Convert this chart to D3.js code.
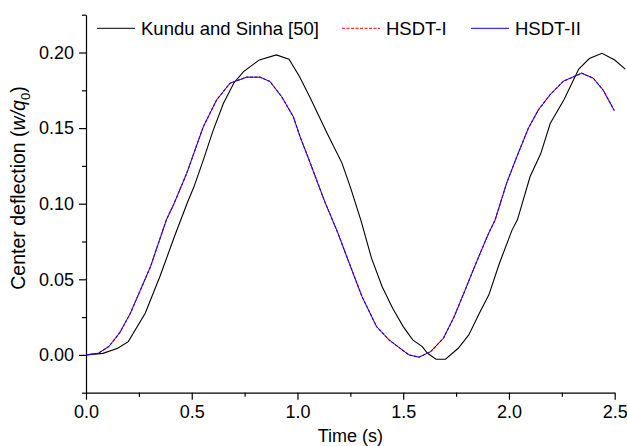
<!DOCTYPE html>
<html>
<head>
<meta charset="utf-8">
<script src="https://cdn.jsdelivr.net/npm/d3@7"></script>
<style>
	body{margin:0;background:#fff;}
	svg text{font-family:"Liberation Sans",Arial,sans-serif;fill:#000;}
</style>
</head>
<body>
<div id="chart"></div>
<script>
// Kundu and Sinha [50]
const kunduTime = [0,0.08,0.15,0.20,0.28,0.35,0.42,0.48,0.51,0.555,0.60,0.65,0.70,0.745,0.82,0.90,0.96,1.01,1.06,1.14,1.21,1.25,1.30,1.35,1.40,1.45,1.50,1.545,1.59,1.615,1.655,1.70,1.76,1.81,1.86,1.905,1.955,2.015,2.04,2.10,2.15,2.195,2.26,2.33,2.38,2.44,2.50,2.55];
const kunduDefl = [0,0.001,0.0044,0.0088,0.0276,0.052,0.079,0.101,0.111,0.129,0.148,0.1664,0.180,0.1874,0.1951,0.1984,0.1955,0.184,0.170,0.1466,0.127,0.111,0.089,0.064,0.0452,0.0309,0.0187,0.0099,0.0055,0.0011,-0.0029,-0.0029,0.0044,0.0132,0.0276,0.0397,0.0606,0.0827,0.0893,0.118,0.133,0.153,0.1687,0.189,0.196,0.1995,0.195,0.189];

// HSDT-I and HSDT-II lie on top of each other
const hsdtTime = [0,0.057,0.108,0.16,0.21,0.305,0.38,0.416,0.476,0.555,0.618,0.681,0.76,0.823,0.87,0.925,0.98,1.012,1.06,1.13,1.19,1.245,1.305,1.374,1.433,1.527,1.575,1.63,1.69,1.741,1.793,1.844,1.904,1.934,1.989,2.037,2.092,2.139,2.194,2.257,2.344,2.399,2.446,2.498];
const hsdt1Defl = [0,0.001,0.0055,0.0148,0.0276,0.0584,0.0893,0.100,0.120,0.151,0.1687,0.1797,0.1837,0.1837,0.1808,0.1708,0.1576,0.1444,0.127,0.101,0.081,0.0606,0.0386,0.0187,0.0099,0.0,-0.0015,0.0022,0.011,0.0253,0.043,0.0606,0.0805,0.089,0.1136,0.131,0.150,0.162,0.172,0.181,0.1863,0.183,0.175,0.1616];
const hsdt2Defl = [0,0.001,0.0055,0.0148,0.0276,0.0584,0.0893,0.100,0.120,0.151,0.1687,0.1797,0.1837,0.1837,0.1808,0.1708,0.1576,0.1444,0.127,0.101,0.081,0.0606,0.0386,0.0187,0.0099,0.0,-0.0015,0.0022,0.011,0.0253,0.043,0.0606,0.0805,0.089,0.1136,0.131,0.150,0.162,0.172,0.181,0.1863,0.183,0.175,0.1616];

const xTicks = [0,0.5,1.0,1.5,2.0,2.5];
const yTicks = [0,0.05,0.10,0.15,0.20];
const legendNames = ["Kundu and Sinha [50]","HSDT-I","HSDT-II"];

const W = 627, H = 446;
const margin = {top:14.7, right:12.3, bottom:53.3, left:86};

const svg = d3.select("#chart").append("svg")
	.attr("width",W)
	.attr("height",H);

const x = d3.scaleLinear()
	.domain([0,2.5])
	.range([margin.left, W-margin.right]);

const y = d3.scaleLinear()
	.domain([-0.025,0.225])
	.range([H-margin.bottom, margin.top]);

// axes: major ticks with labels, then minor ticks
const xAxis = svg.append("g")
	.attr("transform",`translate(0,${H-margin.bottom})`)
	.call(d3.axisBottom(x).tickValues(xTicks).tickFormat(d3.format(".1f")).tickSize(7).tickSizeOuter(0).tickPadding(6));
svg.append("g")
	.attr("transform",`translate(0,${H-margin.bottom})`)
	.call(d3.axisBottom(x).tickValues(d3.range(0.25,2.5,0.5)).tickFormat("").tickSize(4).tickSizeOuter(0))
	.select(".domain").remove();

const yAxis = svg.append("g")
	.attr("transform",`translate(${margin.left},0)`)
	.call(d3.axisLeft(y).tickValues(yTicks).tickFormat(d3.format(".2f")).tickSize(7).tickSizeOuter(0).tickPadding(5));
svg.append("g")
	.attr("transform",`translate(${margin.left},0)`)
	.call(d3.axisLeft(y).tickValues([-0.025,0.025,0.075,0.125,0.175,0.225]).tickFormat("").tickSize(4).tickSizeOuter(0))
	.select(".domain").remove();

svg.selectAll(".tick line, .domain")
	.attr("stroke","#000")
	.attr("stroke-width",1.2);

xAxis.selectAll("text")
	.style("font-size","18px")
	.attr("fill","#000");
yAxis.selectAll("text")
	.style("font-size","18px")
	.attr("fill","#000");

// axis titles
svg.append("text")
	.attr("x",(x.range()[0]+x.range()[1])/2)
	.attr("y",442)
	.attr("text-anchor","middle")
	.style("font-size","18px")
	.text("Time (s)");

const yTitle = svg.append("text")
	.attr("transform","translate(25,188) rotate(-90)")
	.attr("text-anchor","middle")
	.style("font-size","19.5px");
yTitle.append("tspan").text("Center deflection (");
yTitle.append("tspan").style("font-style","italic").text("w/q");
yTitle.append("tspan").attr("dy",5).style("font-size","13px").text("0");
yTitle.append("tspan").attr("dy",-5).text(")");

// curves
const series = [
	{name:legendNames[0], t:kunduTime, v:kunduDefl, color:"#000", dash:null, width:1.1},
	{name:legendNames[1], t:hsdtTime, v:hsdt1Defl, color:"#ff0000", dash:"3,1.5", width:1.3},
	{name:legendNames[2], t:hsdtTime, v:hsdt2Defl, color:"#0000ff", dash:null, width:1}
];

const line = d3.line()
	.x(d=>x(d[0]))
	.y(d=>y(d[1]));

svg.append("g").attr("class","plot")
	.selectAll("path")
	.data(series)
	.join("path")
	.attr("d",d=>line(d3.zip(d.t,d.v)))
	.attr("fill","none")
	.attr("stroke",d=>d.color)
	.attr("stroke-width",d=>d.width)
	.attr("stroke-dasharray",d=>d.dash);

// legend
const legendX = [97,342,471];
const legend = svg.append("g").attr("class","legend")
	.selectAll("g")
	.data(series)
	.join("g")
	.attr("transform",(d,i)=>`translate(${legendX[i]},28.3)`);

legend.append("line")
	.attr("x1",0)
	.attr("x2",38)
	.attr("stroke",d=>d.color)
	.attr("stroke-width",1)
	.attr("stroke-dasharray",d=>d.dash);

legend.append("text")
	.attr("x",44)
	.attr("y",6.5)
	.style("font-size","18.5px")
	.text(d=>d.name);
</script>
</body>
</html>
